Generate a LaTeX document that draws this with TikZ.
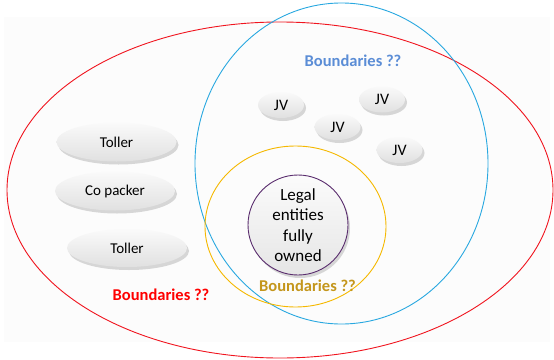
\documentclass[tikz,border=0pt]{standalone}
\usepackage{fontspec}
\setmainfont{Carlito}
\usetikzlibrary{shapes.geometric,shadows}
\definecolor{bndred}{HTML}{F0141E}
\definecolor{bndblue}{HTML}{29A8E0}
\definecolor{bndyellow}{HTML}{F5B800}
\definecolor{txtblue}{HTML}{5B8DD6}
\definecolor{txtgold}{HTML}{C4961C}
\definecolor{ownpurple}{HTML}{5A2D6E}

\begin{document}
\begin{tikzpicture}[x=1pt,y=-1pt,line cap=round,
  outline/.style={ellipse,draw,line width=0.9pt,inner sep=0pt},
  party/.style={ellipse,inner sep=0pt,top color=gray!4,bottom color=gray!24,
    drop shadow={opacity=0.3,shadow xshift=2pt,shadow yshift=-3pt},
    font=\fontsize{15}{17}\selectfont},
  jv/.style={party,minimum width=46pt,minimum height=26pt,font=\fontsize{16}{18}\selectfont},
  bnd/.style={font=\fontsize{16.5}{18}\selectfont\bfseries}]
\useasboundingbox (0,0) rectangle (554,359);
\fill[gray!2] (4,17) rectangle (550,342);
% boundary ellipses
\node[outline,draw=bndred,minimum width=546pt,minimum height=336pt] (outer) at (280,190) {};
\node[outline,draw=bndblue,minimum width=293pt,minimum height=321pt] (jvring) at (341.5,163.5) {};
\node[outline,draw=bndyellow,minimum width=181pt,minimum height=161pt] (ownring) at (295.5,226.5) {};
% core entity
\node[circle,draw=ownpurple,line width=0.9pt,minimum size=100pt,inner sep=0pt,
  top color=gray!3,bottom color=gray!20,
  drop shadow={opacity=0.3,shadow xshift=2pt,shadow yshift=-3pt},
  align=center,font=\fontsize{17}{20.5}\selectfont] (legal) at (298,225)
  {Legal\\entities\\fully\\owned};
% outside parties
\node[party,minimum width=120pt,minimum height=39pt] (toller1) at (116.5,142) {Toller};
\node[party,minimum width=120pt,minimum height=39pt] (copacker) at (115,191) {Co packer};
\node[party,minimum width=120pt,minimum height=38pt] (toller2) at (127,248) {Toller};
% joint ventures
\node[jv] (jv1) at (281,105) {JV};
\node[jv] (jv2) at (382,99.5) {JV};
\node[jv] (jv3) at (337.5,127) {JV};
\node[jv] (jv4) at (399.5,150) {JV};
% labels
\node[bnd,text=txtblue] (bblue) at (353,61) {Boundaries ??};
\node[bnd,text=red] (bred) at (161,295) {Boundaries ??};
\node[bnd,text=txtgold] (bgold) at (307.5,286) {Boundaries ??};
\end{tikzpicture}
\end{document}
